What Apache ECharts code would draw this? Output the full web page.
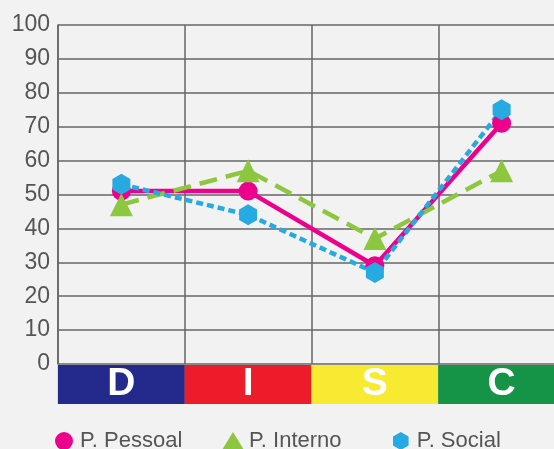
<!DOCTYPE html>
<html>
<head>
<meta charset="utf-8">
<script src="https://cdn.jsdelivr.net/npm/echarts@6/dist/echarts.min.js"></script>
<style>
  html, body { margin: 0; padding: 0; background: #f2f2f2; }
  #chart { width: 554px; height: 449px; }
</style>
</head>
<body>
<div id="chart"></div>
<script>
// dados do gráfico DISC
var categorias = ["D", "I", "S", "C"];
var pessoal = [51, 51, 29, 71];
var interno = [47, 57, 37, 57];
var social = [53, 44, 27, 75];
var coresFaixa = ["#232a8c", "#ec1c2b", "#f7ea31", "#159447"];

var hexagono = "path://M50,0 L93.3,25 L93.3,75 L50,100 L6.7,75 L6.7,25 Z";
var fonte = "Liberation Sans, Arial, sans-serif";

var rich = {};
categorias.forEach(function (c, i) {
  rich[c] = {
    backgroundColor: coresFaixa[i],
    width: 127,
    height: 39,
    lineHeight: 41,
    align: "center",
    color: "#fff",
    fontSize: 39,
    fontWeight: "bold",
    fontFamily: fonte
  };
});

function legenda(nome, icone, esquerda, w, gap) {
  return {
    top: 425,
    left: esquerda,
    itemWidth: w,
    itemHeight: 18,
    textStyle: { color: "#555", fontSize: 22, fontFamily: fonte, padding: [0, 0, 0, gap] },
    data: [{ name: nome, icon: icone }]
  };
}

var myChart = echarts.init(document.getElementById("chart"));
myChart.setOption({
  backgroundColor: "#f2f2f2",
  animation: false,
  grid: {
    left: 58,
    top: 25,
    bottom: 85,
    width: 507,
    outerBoundsMode: "none"
  },
  xAxis: {
    type: "category",
    data: categorias,
    boundaryGap: true,
    axisLine: { show: false },
    axisTick: { show: false },
    splitLine: {
      show: true,
      lineStyle: { color: "#666", width: 1.5 }
    },
    axisLabel: {
      margin: 0,
      interval: 0,
      formatter: function (v) {
        return "{" + v + "|" + v + "}";
      },
      rich: rich
    }
  },
  yAxis: {
    type: "value",
    min: 0,
    max: 100,
    interval: 10,
    axisLine: { show: true, lineStyle: { color: "#666", width: 1.5 } },
    axisTick: { show: false },
    splitLine: { lineStyle: { color: "#666", width: 1.5 } },
    axisLabel: {
      color: "#555",
      fontSize: 23,
      margin: 8,
      fontFamily: fonte
    }
  },
  legend: [
    legenda("P. Pessoal", "circle", 50, 18, 2),
    legenda("P. Interno", "triangle", 217, 22, 0),
    legenda("P. Social", hexagono, 388, 16, 3)
  ],
  series: [
    {
      name: "P. Pessoal",
      type: "line",
      data: pessoal,
      color: "#ec008c",
      symbol: "circle",
      symbolSize: 19,
      lineStyle: { width: 4.5, color: "#ec008c" }
    },
    {
      name: "P. Interno",
      type: "line",
      data: interno,
      color: "#8dc63f",
      symbol: "triangle",
      symbolSize: 23,
      lineStyle: { width: 4.5, color: "#8dc63f", type: [18, 9] }
    },
    {
      name: "P. Social",
      type: "line",
      data: social,
      color: "#27aae1",
      symbol: hexagono,
      symbolSize: [18, 21],
      lineStyle: { width: 4.5, color: "#27aae1", type: [7, 4] }
    }
  ]
});
</script>
</body>
</html>
